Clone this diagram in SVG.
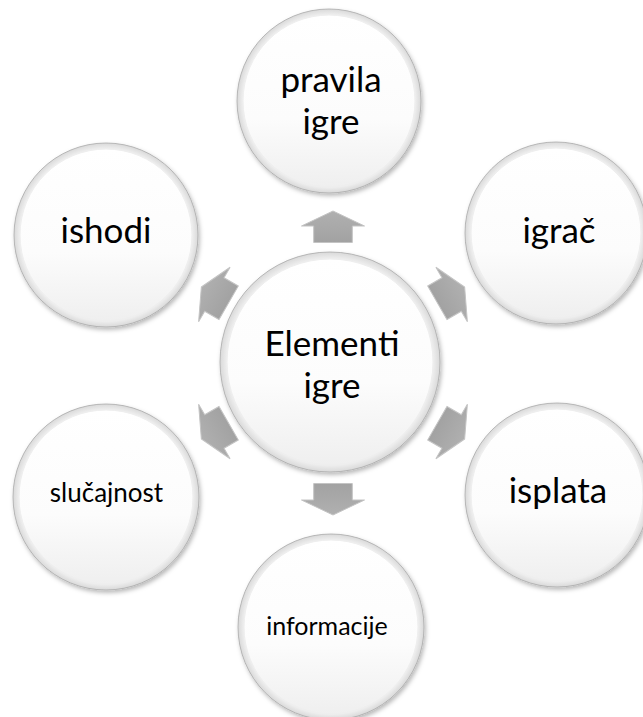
<svg xmlns="http://www.w3.org/2000/svg" width="643" height="717" viewBox="0 0 643 717">
  <defs>
    <radialGradient id="cg" cx="0.5" cy="0.5" r="0.5">
      <stop offset="0" stop-color="#ffffff"/>
      <stop offset="0.86" stop-color="#fafafa"/>
      <stop offset="0.93" stop-color="#f1f1f1"/>
      <stop offset="1" stop-color="#d9d9d9"/>
    </radialGradient>
    <linearGradient id="ig" x1="0" y1="0" x2="0" y2="1">
      <stop offset="0" stop-color="#ffffff"/>
      <stop offset="0.6" stop-color="#fcfcfc"/>
      <stop offset="1" stop-color="#efefef"/>
    </linearGradient>
    <linearGradient id="ag" x1="0" y1="0" x2="0" y2="1">
      <stop offset="0" stop-color="#b0b0b0"/>
      <stop offset="1" stop-color="#a2a2a2"/>
    </linearGradient>
    <filter id="sh" x="-20%" y="-20%" width="140%" height="140%">
      <feDropShadow dx="1.5" dy="2.5" stdDeviation="2" flood-color="#000" flood-opacity="0.28"/>
    </filter>
    <path id="arrow" d="M0,-16 L31.5,-1 L19.3,-1 L19.3,15.5 L-19.3,15.5 L-19.3,-1 L-31.5,-1 Z"/>
  </defs>
  <style>
    .outer { fill: url(#cg); stroke: #aaaaaa; stroke-width: 0.8; filter: url(#sh); }
    .inner { fill: url(#ig); stroke: #eeeeee; stroke-width: 1; }
    .arr { fill: url(#ag); stroke: #c4c4c4; stroke-width: 1; stroke-linejoin: miter; }
    .lbl { font-family: Lato, "Liberation Sans", sans-serif; fill: #000; text-anchor: middle; }
    .big { font-size: 35px; }
    .small { font-size: 25px; }
  </style>
  <rect width="643" height="717" fill="#ffffff"/>

  <g id="connectors">
    <use href="#arrow" class="arr" transform="translate(333,363) rotate(0) translate(0,-136)"/>
    <use href="#arrow" class="arr" transform="translate(333,363) rotate(60) translate(0,-136)"/>
    <use href="#arrow" class="arr" transform="translate(333,363) rotate(120) translate(0,-136)"/>
    <use href="#arrow" class="arr" transform="translate(333,363) rotate(180) translate(0,-136)"/>
    <use href="#arrow" class="arr" transform="translate(333,363) rotate(240) translate(0,-136)"/>
    <use href="#arrow" class="arr" transform="translate(333,363) rotate(300) translate(0,-136)"/>
  </g>

  <g id="node-center">
    <circle class="outer" cx="330" cy="362" r="110"/>
    <circle class="inner" cx="330" cy="362" r="103"/>
    <text class="lbl big" x="332" y="356">Elementi</text>
    <text class="lbl big" x="332" y="398">igre</text>
  </g>

  <g id="node-pravila">
    <circle class="outer" cx="329" cy="101" r="92"/>
    <circle class="inner" cx="329" cy="101" r="86"/>
    <text class="lbl big" x="331" y="92">pravila</text>
    <text class="lbl big" x="331" y="134">igre</text>
  </g>

  <g id="node-igrac">
    <circle class="outer" cx="556" cy="233" r="91"/>
    <circle class="inner" cx="556" cy="233" r="85"/>
    <text class="lbl big" x="559" y="243">igrač</text>
  </g>

  <g id="node-isplata">
    <circle class="outer" cx="557" cy="495" r="92"/>
    <circle class="inner" cx="557" cy="495" r="86"/>
    <text class="lbl big" x="558" y="503">isplata</text>
  </g>

  <g id="node-informacije">
    <circle class="outer" cx="331" cy="627" r="93"/>
    <circle class="inner" cx="331" cy="627" r="87"/>
    <text class="lbl small" x="327" y="635">informacije</text>
  </g>

  <g id="node-slucajnost">
    <circle class="outer" cx="106" cy="497" r="93"/>
    <circle class="inner" cx="106" cy="497" r="87"/>
    <text class="lbl small" x="106.5" y="502" style="font-size:26px">slučajnost</text>
  </g>

  <g id="node-ishodi">
    <circle class="outer" cx="106" cy="235" r="92"/>
    <circle class="inner" cx="106" cy="235" r="86"/>
    <text class="lbl big" x="106" y="243">ishodi</text>
  </g>
</svg>
